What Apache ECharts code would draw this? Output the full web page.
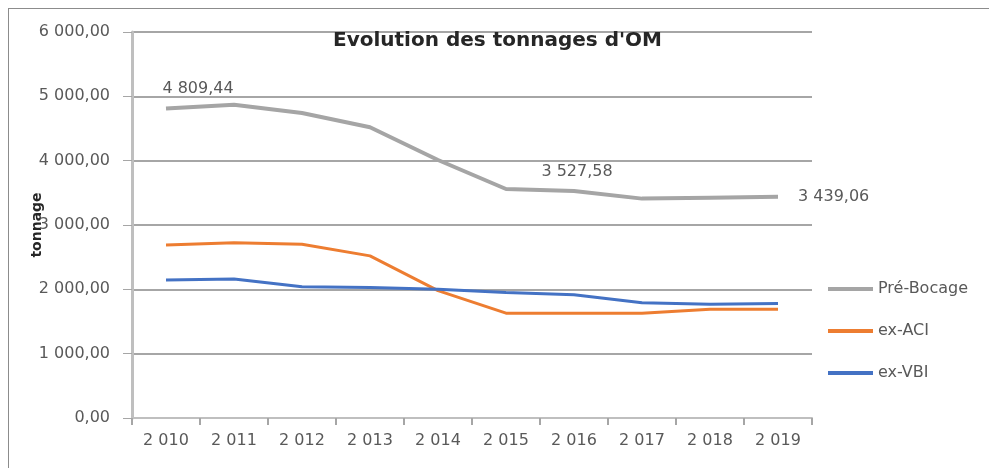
<!DOCTYPE html>
<html>
<head>
<meta charset="utf-8">
<script src="https://cdn.jsdelivr.net/npm/echarts@6/dist/echarts.min.js"></script>
<style>
  html, body { margin: 0; padding: 0; background: #fff; overflow: hidden; }
  #frame { position: absolute; left: 8px; top: 8px; width: 981px; height: 460px; border-left: 1px solid #8c8c8c; border-top: 1px solid #8c8c8c; box-sizing: border-box; }
  #chart { position: absolute; left: 0; top: 0; width: 989px; height: 468px; }
</style>
</head>
<body>
<div id="frame"></div>
<div id="chart"></div>
<script>
  var years = [2010, 2011, 2012, 2013, 2014, 2015, 2016, 2017, 2018, 2019];
  var preBocage = [4809.44, 4870, 4740, 4520, 4010, 3560, 3527.58, 3410, 3425, 3439.06];
  var exACI = [2690, 2725, 2700, 2520, 1980, 1630, 1630, 1630, 1690, 1690];
  var exVBI = [2145, 2160, 2040, 2030, 2000, 1950, 1915, 1790, 1770, 1780];

  // format "4 809,44"
  function frNum(v) {
    var parts = v.toFixed(2).split('.');
    var ent = parts[0].replace(/\B(?=(\d{3})+(?!\d))/g, ' ');
    return ent + ',' + parts[1];
  }
  function yearLabel(y) {
    var s = String(y);
    return s.charAt(0) + ' ' + s.slice(1);
  }

  var textGray = '#595959';
  var font = 'DejaVu Sans, sans-serif';

  // etiquettes visibles seulement sur quelques points
  var labelled = {
    0: {position: 'top', offset: [32, -7]},
    6: {position: 'top', offset: [3, -6]},
    9: {position: 'right', offset: [15, 0]}
  };
  var preData = preBocage.map(function (v, i) {
    if (labelled[i]) {
      return {
        value: v,
        label: {
          show: true,
          position: labelled[i].position,
          offset: labelled[i].offset,
          formatter: function (p) { return frNum(p.value); },
          color: textGray,
          fontSize: 16,
          fontFamily: font
        }
      };
    }
    return v;
  });

  var myChart = echarts.init(document.getElementById('chart'));
  myChart.setOption({
    animation: false,
    title: {
      text: "Evolution des tonnages d'OM",
      left: 333,
      top: 31,
      padding: 0,
      textStyle: { fontSize: 20, fontWeight: 'bold', color: '#262626', fontFamily: font }
    },
    legend: {
      orient: 'vertical',
      left: 828,
      top: 281,
      padding: 0,
      itemGap: 26,
      itemWidth: 45,
      itemHeight: 4,
      icon: 'rect',
      textStyle: { fontSize: 16, color: textGray, fontFamily: font },
      data: ['Pré-Bocage', 'ex-ACI', 'ex-VBI']
    },
    grid: { left: 132, right: 177, top: 32, bottom: 50 },
    xAxis: {
      type: 'category',
      data: years.map(yearLabel),
      boundaryGap: true,
      axisLine: { lineStyle: { color: '#bfbfbf', width: 2 } },
      axisTick: { show: true, length: 7, lineStyle: { color: '#a6a6a6', width: 2 } },
      axisLabel: { color: textGray, fontSize: 16, margin: 15, fontFamily: font }
    },
    yAxis: {
      type: 'value',
      min: 0,
      max: 6000,
      interval: 1000,
      name: 'tonnage',
      nameLocation: 'middle',
      nameGap: 88,
      nameRotate: 90,
      nameMoveOverlap: false,
      nameTextStyle: {
        fontSize: 14, fontWeight: 'bold', color: '#262626', fontFamily: font,
        backgroundColor: '#fff', padding: [0, 2, 0, 2]
      },
      axisLine: { show: true, lineStyle: { color: '#bfbfbf', width: 3 } },
      axisTick: { show: true, length: 9, lineStyle: { color: '#a6a6a6', width: 1 } },
      axisLabel: {
        color: textGray, fontSize: 16, margin: 22, fontFamily: font,
        formatter: function (v) { return frNum(v); }
      },
      splitLine: { lineStyle: { color: '#a6a6a6', width: 2 } }
    },
    series: [
      {
        name: 'Pré-Bocage', type: 'line', data: preData,
        symbol: 'circle', symbolSize: 0,
        lineStyle: { color: '#a5a5a5', width: 4 }, itemStyle: { color: '#a5a5a5' }
      },
      {
        name: 'ex-ACI', type: 'line', data: exACI,
        symbol: 'none', lineStyle: { color: '#ed7d31', width: 3 }, itemStyle: { color: '#ed7d31' }
      },
      {
        name: 'ex-VBI', type: 'line', data: exVBI,
        symbol: 'none', lineStyle: { color: '#4472c4', width: 3 }, itemStyle: { color: '#4472c4' }
      }
    ]
  });
</script>
</body>
</html>
